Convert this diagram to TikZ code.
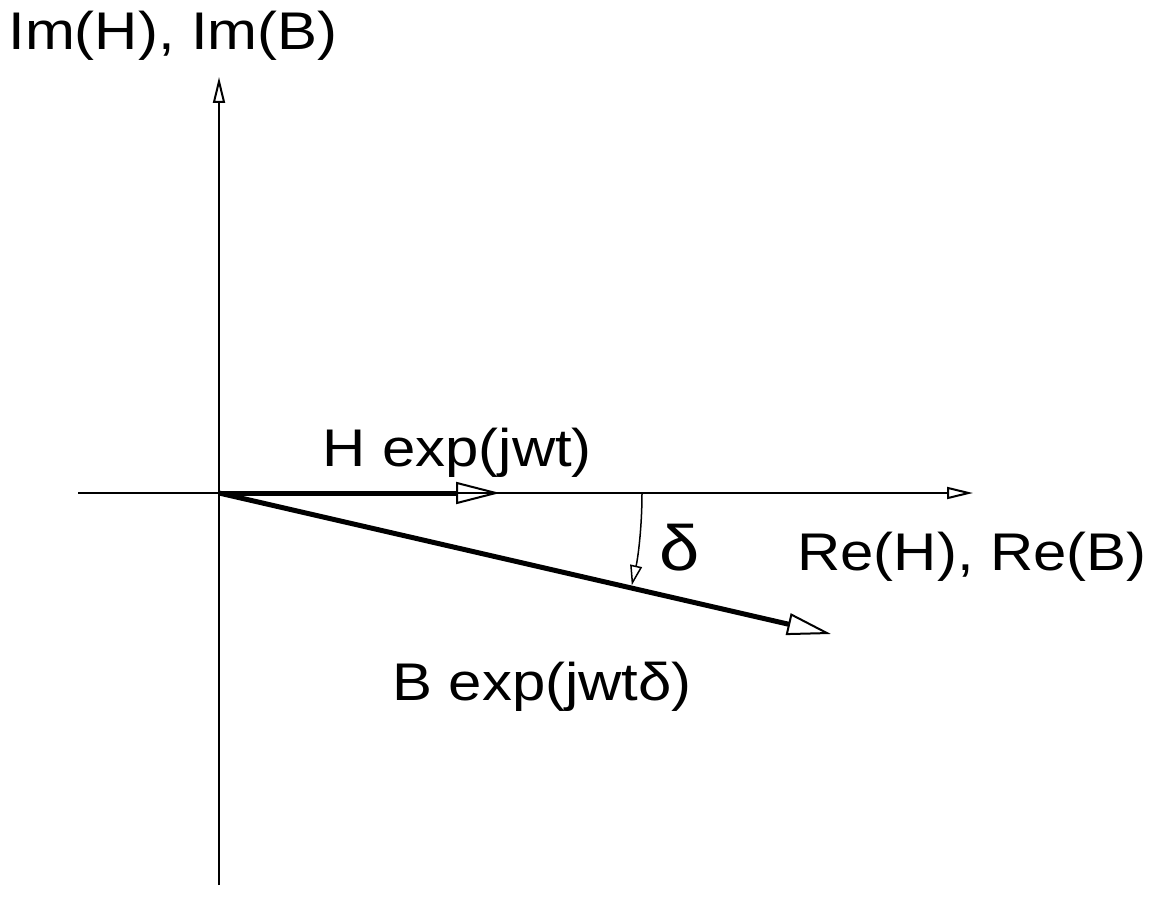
\documentclass[tikz,border=0pt]{standalone}
\usepackage{fontspec}
\setmainfont{Liberation Sans}[FakeStretch=1.13]
\usetikzlibrary{arrows.meta}
\begin{document}
\begin{tikzpicture}[x=0.5pt,y=-0.5pt,
  axis/.style={line width=1pt,-{Triangle[open,length=13pt,width=6pt,line width=1pt]}},
  vec/.style={line width=2.5pt,-{Triangle[open,length=22pt,width=11pt,line width=1pt]}},
  angarrow/.style={line width=0.75pt,-{Triangle[open,length=10pt,width=6pt,line width=0.75pt]}},
  lbl/.style={inner sep=0pt,anchor=base west,font=\fontsize{26.5pt}{30pt}\selectfont}]
\useasboundingbox (0,0) rectangle (1160,914);
\coordinate (O) at (219,493);
\coordinate (ybot) at (219,885);
\coordinate (ytop) at (219,77);
\coordinate (xleft) at (78,493);
\coordinate (xright) at (973,493);
\coordinate (Htip) at (500,493);
\coordinate (Btip) at (831,634);
\coordinate (arcstart) at (642,493);
\draw[axis] (ybot) -- (ytop);
\draw[axis] (xleft) -- (xright);
\draw[vec] (O) -- (Htip);
\draw[vec] (O) -- (Btip);
\draw[angarrow] (arcstart) arc[start angle=0,end angle=12.6,radius=423];
\node[lbl] (imlbl) at (8,50) {Im(H), Im(B)};
\node[lbl] (hlbl) at (322,466) {H exp(jwt)};
\node[lbl] (relbl) at (797,570) {Re(H), Re(B)};
\node[lbl,font=\fontsize{32pt}{36pt}\selectfont] (dlbl) at (659,570) {δ};
\node[lbl] (blbl) at (392,700) {B exp(jwtδ)};
\end{tikzpicture}
\end{document}
